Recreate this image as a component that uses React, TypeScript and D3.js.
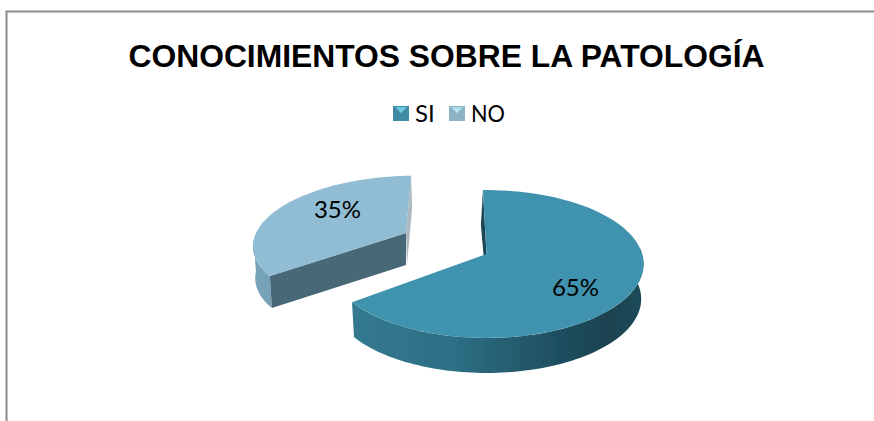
import React from "react";
import * as d3 from "d3";

const title = "CONOCIMIENTOS SOBRE LA PATOLOGÍA";
const categories = ["SI", "NO"];
const values = [65, 35];
const valueLabels = ["65%", "35%"];
const startAngleDeg = -1.5;

const W = 874, H = 421;

// Perspective projection of a flat disc
type Disc = { cx: number; cy: number; R: number; S: number; k: number; shear: number; depth: number; narrow: number };
const discSI: Disc = { cx: 486.5, cy: 254, R: 155.6, S: 72.6, k: 0.135, shear: 0, depth: 35, narrow: 0.985 };
const discNO: Disc = { cx: 406, cy: 233, R: 150, S: 65, k: 0.135, shear: 0.15, depth: 32, narrow: 0.985 };

const project = (d: Disc, a: number, r = 1): [number, number] => {
  const u = r * Math.sin(a), v = -r * Math.cos(a);
  const w = 1 - d.k * v;
  const y = (d.S * v) / w;
  const x = (d.R * u) / w - d.shear * y;
  return [d.cx + x, d.cy + y];
};
const down = (d: Disc, p: [number, number]): [number, number] => [d.cx + (p[0] - d.cx) * d.narrow, p[1] + d.depth];

const line = d3.line<[number, number]>().x((p) => p[0]).y((p) => p[1]);
const closed = d3.line<[number, number]>().x((p) => p[0]).y((p) => p[1]).curve(d3.curveLinearClosed);

const pie = d3.pie<number>().sort(null)
  .startAngle((startAngleDeg * Math.PI) / 180)
  .endAngle(((startAngleDeg + 360) * Math.PI) / 180);
const arcs = pie(values);

const arcPts = (d: Disc, a0: number, a1: number, n = 90): [number, number][] =>
  d3.range(n + 1).map((i) => project(d, a0 + ((a1 - a0) * i) / n));

// SI slice
const si = arcs[0];
const siArc = arcPts(discSI, si.startAngle, si.endAngle);
const siTop: [number, number][] = [[discSI.cx, discSI.cy], ...siArc];
const siWallArc = arcPts(discSI, Math.PI * 0.47, si.endAngle);
const siWall: [number, number][] = [...siWallArc, ...siWallArc.slice().reverse().map((p) => down(discSI, p))];
const siStart = project(discSI, si.startAngle);
const siInner: [number, number][] = [siStart, [siStart[0] - 2, siStart[1] + discSI.depth], [discSI.cx, discSI.cy + discSI.depth], [discSI.cx, discSI.cy]];

// NO slice
const no = arcs[1];
const noArc = arcPts(discNO, no.startAngle, no.endAngle);
const noTop: [number, number][] = [[discNO.cx, discNO.cy], ...noArc];
const noCorner = project(discNO, no.startAngle);
const noEnd = project(discNO, no.endAngle);
const noApex: [number, number] = [discNO.cx, discNO.cy];
const noCut: [number, number][] = [noApex, noCorner, down(discNO, noCorner), down(discNO, noApex)];
const noBack: [number, number][] = [noEnd, [noEnd[0] + 1, noEnd[1] + discNO.depth], [noApex[0] + 1, noApex[1] + discNO.depth], noApex];
const noWallArc = arcPts(discNO, no.startAngle, no.startAngle + 0.55, 30);
const noWall: [number, number][] = [...noWallArc, ...noWallArc.slice().reverse().map((p) => down(discNO, p))];

const siColor = "#4193ae";
const noColor = "#90bdd3";

const Swatch = ({ x, y, base, id }: { x: number; y: number; base: string; id: string }) => (
  <g filter="url(#softer)">
    <rect x={x} y={y} width={16} height={15} fill={base} />
    <path d={line([[x + 2, y + 1], [x + 14, y + 1], [x + 8, y + 7]]) ?? ""} fill={`url(#${id})`} />
  </g>
);

export default function App() {
  return (
    <svg width={W} height={H} viewBox={`0 0 ${W} ${H}`}
      style={{ position: "fixed", left: 0, top: 0, background: "#fff" }}>
      <defs>
        <linearGradient id="siWallG" x1="0" x2="1" y1="0" y2="0">
          <stop offset="0" stopColor="#34798f" />
          <stop offset="0.35" stopColor="#2d6f84" />
          <stop offset="0.7" stopColor="#1f4f60" />
          <stop offset="0.88" stopColor="#1a4250" />
          <stop offset="1" stopColor="#1e4a59" />
        </linearGradient>
        <linearGradient id="siSw" x1="0" x2="0" y1="0" y2="1">
          <stop offset="0" stopColor="#5fc0d8" />
          <stop offset="1" stopColor="#7fd4e6" />
        </linearGradient>
        <linearGradient id="noSw" x1="0" x2="0" y1="0" y2="1">
          <stop offset="0" stopColor="#a8d8e6" />
          <stop offset="1" stopColor="#c4ecf4" />
        </linearGradient>
        <filter id="soft" x="-5%" y="-5%" width="110%" height="110%">
          <feGaussianBlur stdDeviation="0.5" />
        </filter>
        <filter id="softer" x="-10%" y="-10%" width="120%" height="120%">
          <feGaussianBlur stdDeviation="0.6" />
        </filter>
      </defs>

      {/* chart frame */}
      <path d={line([[6.5, H], [6.5, 11.5], [W, 11.5]]) ?? ""} fill="none" stroke="#8c8c8c" strokeWidth={2} />

      <text x={446.5} y={67} textAnchor="middle" fontFamily="'Liberation Sans', Arial, sans-serif"
        fontWeight={700} fontSize={31.8} fill="#000">{title}</text>

      {/* legend */}
      <Swatch x={393} y={106} base="#3f8aa3" id="siSw" />
      <text x={415} y={122} fontFamily="Lato, sans-serif" fontSize={24} fill="#000">{categories[0]}</text>
      <Swatch x={449} y={106} base="#8db4c4" id="noSw" />
      <text x={471} y={122} fontFamily="Lato, sans-serif" fontSize={24} textLength={34} lengthAdjust="spacingAndGlyphs" fill="#000">{categories[1]}</text>

      {/* NO slice */}
      <g filter="url(#soft)">
        <path d={closed(noBack) ?? ""} fill="#aeb9bf" />
        <path d={closed(noWall) ?? ""} fill="#76a3b8" />
        <path d={closed(noCut) ?? ""} fill="#4a6877" />
        <path d={closed(noTop) ?? ""} fill={noColor} />
      </g>

      {/* SI slice */}
      <g filter="url(#soft)">
        <path d={closed(siInner) ?? ""} fill="#1c4656" />
        <path d={closed(siWall) ?? ""} fill="url(#siWallG)" />
        <path d={closed(siTop) ?? ""} fill={siColor} />
      </g>

      <text x={575.5} y={296} textAnchor="middle" fontFamily="Lato, sans-serif" fontSize={24} fill="#000">{valueLabels[0]}</text>
      <text x={337.5} y={218} textAnchor="middle" fontFamily="Lato, sans-serif" fontSize={24} fill="#000">{valueLabels[1]}</text>
    </svg>
  );
}
